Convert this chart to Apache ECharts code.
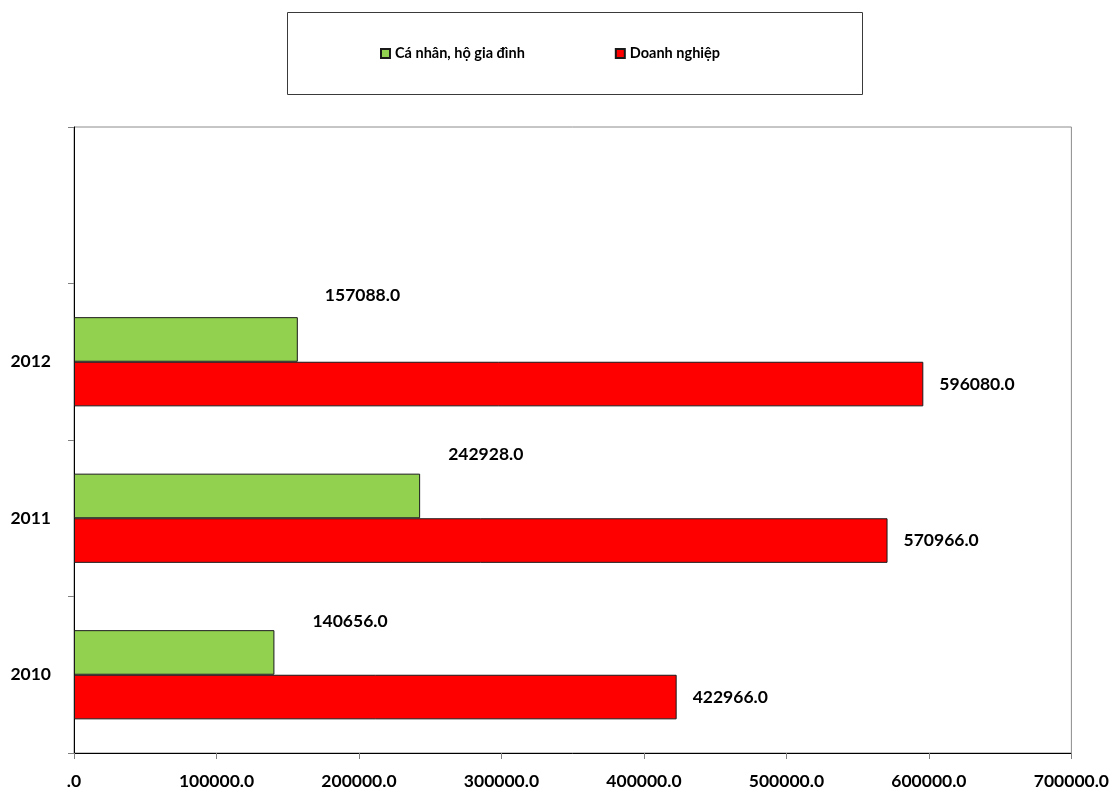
<!DOCTYPE html>
<html>
<head>
<meta charset="utf-8">
<script src="https://cdn.jsdelivr.net/npm/echarts@6/dist/echarts.min.js"></script>
<style>
html,body{margin:0;padding:0;background:#fff;}
#chart{width:1112px;height:796px;}
</style>
</head>
<body>
<div id="chart"></div>
<script>
const categories = ['2010', '2011', '2012', ''];
const seriesNames = ['Cá nhân, hộ gia đình', 'Doanh nghiệp'];
const householdValues = [140656.0, 242928.0, 157088.0, null];
const enterpriseValues = [422966.0, 570966.0, 596080.0, null];
const xTickMin = 0;
const xTickMax = 700000;
const xTickStep = 100000;

const FONT = 'Lato';
const householdLabelOffsets = [[33, -31], [23, -42], [22, -44], [0, 0]];

const chart = echarts.init(document.getElementById('chart'), null, {renderer: 'canvas'});

const option = {
  backgroundColor: '#ffffff',
  animation: false,
  graphic: [{
    type: 'rect',
    shape: {x: 287.5, y: 12.5, width: 575, height: 82},
    style: {fill: '#ffffff', stroke: '#3a3a3a', lineWidth: 1},
    z: 0
  }],
  legend: {
    left: 380,
    top: 46,
    itemWidth: 9,
    itemHeight: 9,
    itemGap: 90,
    icon: 'rect',
    padding: 0,
    textStyle: {fontFamily: FONT, fontWeight: 'bold', fontSize: 14.5, color: '#000'},
    data: seriesNames,
    z: 5
  },
  grid: {
    left: 74,
    right: 40,
    top: 127,
    bottom: 43,
    show: true,
    borderColor: '#8c8c8c',
    borderWidth: 1,
    containLabel: false
  },
  xAxis: {
    type: 'value',
    min: xTickMin,
    max: xTickMax,
    interval: xTickStep,
    axisLine: {show: true, lineStyle: {color: '#000', width: 1}},
    axisTick: {show: true, length: 6, lineStyle: {color: '#808080'}},
    splitLine: {show: false},
    axisLabel: {
      margin: 19,
      fontFamily: FONT, fontWeight: 'bold', fontSize: 17.5, color: '#000',
      formatter: v => v === 0 ? '.0' : v.toFixed(1)
    }
  },
  yAxis: {
    type: 'category',
    data: categories,
    boundaryGap: true,
    axisLine: {show: true, lineStyle: {color: '#000', width: 1}},
    axisTick: {show: true, length: 6, lineStyle: {color: '#808080'}},
    splitLine: {show: false},
    axisLabel: {
      margin: 23,
      fontFamily: FONT, fontWeight: 'bold', fontSize: 17.5, color: '#000'
    }
  },
  series: [
    {
      name: seriesNames[0],
      type: 'bar',
      barGap: '0%',
      barCategoryGap: '43%',
      itemStyle: {color: '#92D050', borderColor: '#1a1a1a', borderWidth: 1},
      data: householdValues.map((v, i) => ({
        value: v,
        label: {offset: householdLabelOffsets[i]}
      })),
      label: {
        show: true,
        position: 'right',
        distance: 5,
        fontFamily: FONT, fontWeight: 'bold', fontSize: 17.5, color: '#000',
        formatter: p => p.value == null ? '' : Number(p.value).toFixed(1)
      }
    },
    {
      name: seriesNames[1],
      type: 'bar',
      barGap: '0%',
      barCategoryGap: '43%',
      itemStyle: {color: '#FF0000', borderColor: '#1a1a1a', borderWidth: 1},
      data: enterpriseValues,
      label: {
        show: true,
        position: 'right',
        distance: 16,
        fontFamily: FONT, fontWeight: 'bold', fontSize: 17.5, color: '#000',
        formatter: p => p.value == null ? '' : Number(p.value).toFixed(1)
      }
    }
  ]
};

chart.setOption(option);
</script>
</body>
</html>
